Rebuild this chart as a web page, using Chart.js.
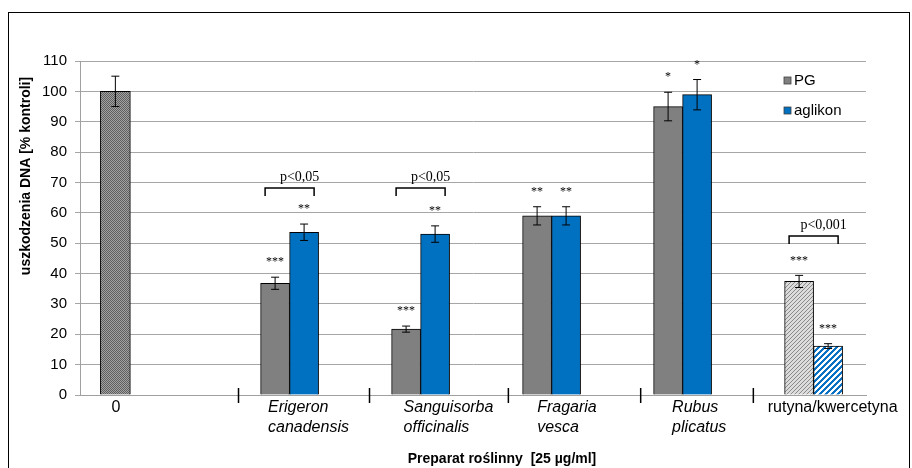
<!DOCTYPE html>
<html>
<head>
<meta charset="utf-8">
<script src="https://cdn.jsdelivr.net/npm/chart.js@4.4.1/dist/chart.umd.min.js"></script>
<style>
  body { margin: 0; background: #fff; }
  #wrap { position: relative; width: 912px; height: 468px; }
  #frame { position: absolute; left: 8px; top: 12px; width: 900px; height: 470px; border: 1.5px solid #000; pointer-events: none; }
</style>
</head>
<body>
<div id="wrap">
  <canvas id="chart" width="912" height="468"></canvas>
  <div id="frame"></div>
</div>
<script>
// --- data ---
const groups = ['Erigeron canadensis', 'Sanguisorba officinalis', 'Fragaria vesca', 'Rubus plicatus', 'rutyna/kwercetyna'];
const groupPos = [1, 2, 3, 4, 5];              // x position of each group on the axis
const controlPos = -0.33;                      // x position of the "0" control bar
const controlValue = 100;
const controlErr = 5;

const pgValues = [36.8, 21.7, 59, 95, 37.4];
const pgErr = [2, 1, 3, 4.7, 2];
const pgStars = ['***', '***', '**', '*', '***'];

const agValues = [53.6, 53, 59, 98.9, 16.1];
const agErr = [2.7, 2.7, 3, 5, 0.8];
const agStars = ['**', '**', '**', '*', '***'];

// significance brackets: group index, label, bracket level (% units)
const compGroup = [0, 1, 4];
const compText = ['p<0,05', 'p<0,05', 'p<0,001'];
const compLevel = [68.2, 68.2, 52.4];

// axis labels
const tickLabels = ['0', ['Erigeron', 'canadensis'], ['Sanguisorba', 'officinalis'], ['Fragaria', 'vesca'], ['Rubus', 'plicatus'], 'rutyna/kwercetyna'];
const tickAt = [-0.36, 0.835, 1.87, 2.89, 3.92, 4.65];
const dividers = [0.61, 1.61, 2.67, 3.68, 4.54];
const yTitle = 'uszkodzenia DNA [% kontroli]';
const xTitle = 'Preparat roślinny  [25 µg/ml]';

const SANS = "'Liberation Sans', Arial, sans-serif";
const SERIF = "'Liberation Serif', 'Times New Roman', serif";

const canvas = document.getElementById('chart');
const ctx = canvas.getContext('2d');

// small pattern tiles
function makePattern(size, painter) {
    const c = document.createElement('canvas');
    c.width = size; c.height = size;
    const g = c.getContext('2d');
    painter(g, size);
    return ctx.createPattern(c, 'repeat');
}
const checker = makePattern(2, (g) => {
    g.fillStyle = '#a2a2a2'; g.fillRect(0, 0, 2, 2);
    g.fillStyle = '#5e5e5e'; g.fillRect(0, 0, 1, 1); g.fillRect(1, 1, 1, 1);
});
const grayHatch = makePattern(4, (g, s) => {
    g.fillStyle = '#dcdcdc'; g.fillRect(0, 0, s, s);
    g.fillStyle = '#8a8a8a';
    for (let x = 0; x < s; x++) for (let y = 0; y < s; y++) if ((x + y) % 4 === 0) g.fillRect(x, y, 1, 1);
});
const blueHatch = makePattern(6, (g, s) => {
    g.fillStyle = '#ffffff'; g.fillRect(0, 0, s, s);
    g.fillStyle = '#0a72c4';
    for (let x = 0; x < s; x++) for (let y = 0; y < s; y++) if ((x + y) % 6 < 3) g.fillRect(x, y, 1, 1);
});

const GRAY = '#808080';
const BLUE = '#0070c0';

const annotations = {
    id: 'annotations',
    afterDatasetsDraw(chart) {
        const c = chart.ctx;
        const ys = chart.scales.y;
        const xs = chart.scales.x;
        const area = chart.chartArea;

        // error bars + stars
        const drawErr = (el, v, e, star) => {
            const top = ys.getPixelForValue(v + e);
            const bot = ys.getPixelForValue(v - e);
            c.save();
            c.strokeStyle = '#000';
            c.lineWidth = 1;
            c.beginPath();
            c.moveTo(el.x, top); c.lineTo(el.x, bot);
            c.moveTo(el.x - 4, top); c.lineTo(el.x + 4, top);
            c.moveTo(el.x - 4, bot); c.lineTo(el.x + 4, bot);
            c.stroke();
            if (star) {
                c.fillStyle = '#000';
                c.font = '12px ' + SERIF;
                c.textAlign = 'center';
                c.textBaseline = 'middle';
                c.fillText(star, el.x, top - 15);
            }
            c.restore();
        };
        drawErr(chart.getDatasetMeta(0).data[0], controlValue, controlErr, '');
        const pgMeta = chart.getDatasetMeta(1).data;
        const agMeta = chart.getDatasetMeta(2).data;
        pgMeta.forEach((el, i) => drawErr(el, pgValues[i], pgErr[i], pgStars[i]));
        agMeta.forEach((el, i) => drawErr(el, agValues[i], agErr[i], agStars[i]));

        // significance brackets
        c.save();
        c.strokeStyle = '#000';
        c.lineWidth = 1.5;
        compGroup.forEach((g, k) => {
            const l = pgMeta[g].x - 10;
            const r = agMeta[g].x + 10;
            const yTop = ys.getPixelForValue(compLevel[k]);
            c.beginPath();
            c.moveTo(l, yTop + 8); c.lineTo(l, yTop); c.lineTo(r, yTop); c.lineTo(r, yTop + 8);
            c.stroke();
            c.fillStyle = '#000';
            c.font = '14px ' + SERIF;
            c.textAlign = 'center';
            c.textBaseline = 'middle';
            c.fillText(compText[k], (l + r) / 2 + 10, yTop - 11);
        });

        // category dividers on the x axis
        c.lineWidth = 1.5;
        dividers.forEach(v => {
            const x = xs.getPixelForValue(v);
            c.beginPath();
            c.moveTo(x, area.bottom - 7); c.lineTo(x, area.bottom + 8);
            c.stroke();
        });

        // legend
        c.font = '15px ' + SANS;
        c.textAlign = 'left';
        c.textBaseline = 'middle';
        [1, 2].forEach((d, k) => {
            const ds = chart.data.datasets[d];
            const y = area.top + 20 + k * 30;
            const x = area.right - 82;
            c.fillStyle = Array.isArray(ds.backgroundColor) ? ds.backgroundColor[0] : ds.backgroundColor;
            c.fillRect(x, y - 4, 7, 7);
            c.lineWidth = 0.8;
            c.strokeStyle = '#404040';
            c.strokeRect(x, y - 4, 7, 7);
            c.fillStyle = '#000';
            c.fillText(ds.label, x + 10, y);
        });

        // axis titles
        c.font = 'bold 14px ' + SANS;
        c.textAlign = 'center';
        c.fillText(xTitle, 502, 459);
        c.translate(26, 176);
        c.rotate(-Math.PI / 2);
        c.fillText(yTitle, 0, 0);
        c.restore();
    }
};

new Chart(ctx, {
    type: 'bar',
    data: {
        datasets: [
            {
                label: 'kontrola',
                data: [{ x: controlPos, y: controlValue }],
                grouped: false,
                backgroundColor: checker,
                borderColor: '#000',
                borderWidth: 1,
                barThickness: 30
            },
            {
                label: 'PG',
                data: groupPos.map((x, i) => ({ x: x, y: pgValues[i] })),
                backgroundColor: groupPos.map((x, i) => i === 4 ? grayHatch : GRAY),
                borderColor: '#000',
                borderWidth: 1,
                barThickness: 29
            },
            {
                label: 'aglikon',
                data: groupPos.map((x, i) => ({ x: x, y: agValues[i] })),
                backgroundColor: groupPos.map((x, i) => i === 4 ? blueHatch : BLUE),
                borderColor: '#000',
                borderWidth: 1,
                barThickness: 29
            }
        ]
    },
    options: {
        responsive: false,
        animation: false,
        layout: { padding: { top: 61, right: 46, left: 0, bottom: 0 } },
        plugins: {
            legend: { display: false },
            tooltip: { enabled: false }
        },
        scales: {
            x: {
                type: 'linear',
                min: -0.6,
                max: 5.4,
                offset: false,
                grid: { display: false, drawTicks: false },
                border: { color: '#a0a0a0' },
                afterFit: s => { s.height = 73; },
                afterBuildTicks: s => { s.ticks = tickAt.map(v => ({ value: v })); },
                ticks: {
                    autoSkip: false,
                    maxRotation: 0,
                    minRotation: 0,
                    align: 'start',
                    padding: 3,
                    color: '#000',
                    font: c => ({ family: SANS, size: 16, lineHeight: 1.25, style: (c.index >= 1 && c.index <= 4) ? 'italic' : 'normal' }),
                    callback: (v, i) => tickLabels[i]
                }
            },
            y: {
                min: 0,
                max: 110,
                afterFit: s => { s.width = 80; },
                grid: { color: '#a6a6a6', tickLength: 5 },
                border: { color: '#a0a0a0' },
                ticks: {
                    stepSize: 10,
                    padding: 8,
                    color: '#000',
                    font: { family: SANS, size: 15 }
                }
            }
        }
    },
    plugins: [annotations]
});
</script>
</body>
</html>
